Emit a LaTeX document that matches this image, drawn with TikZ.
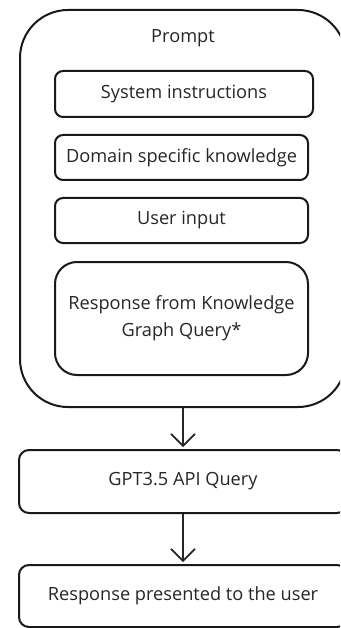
\documentclass[tikz,border=0pt]{standalone}
\usepackage{fontspec}
\setmainfont{Open Sans}
\usetikzlibrary{arrows.meta}

\definecolor{inkgray}{HTML}{262626}

\tikzset{
    box/.style={draw=black!90, line width=2pt, rounded corners=8pt, align=center, inner sep=0pt, text=inkgray},
    flow/.style={draw=black!85, line width=1.6pt, -{Straight Barb[length=12pt,width=24pt]}, shorten >=2pt}
}

\begin{document}
\begin{tikzpicture}[x=1pt, y=-1pt, font=\fontsize{18.2}{27}\selectfont]

        \useasboundingbox (0,0) rectangle (340,628);
        \clip (0,0) rectangle (340,628);

        % the prompt and its parts
        \node[box, rounded corners=48pt, minimum width=326pt, minimum height=397pt]
            (prompt) at (183,208.5) {};
        \node[text=inkgray] (title) at (183,38) {Prompt};

        \node[box, minimum width=258pt, minimum height=46pt]
            (sysinst) at (184,94) {System instructions};
        \node[box, minimum width=253pt, minimum height=45pt]
            (domain) at (181.5,157.5) {Domain specific knowledge};
        \node[box, minimum width=253pt, minimum height=45pt]
            (userin) at (181.5,220.5) {User input};
        \node[box, rounded corners=22pt, minimum width=253pt, minimum height=113pt]
            (kgquery) at (181.5,318.5) {Response from Knowledge\\Graph Query*};

        % the query and the answer
        \node[box, rounded corners=10pt, minimum width=328pt, minimum height=63pt]
            (gpt) at (183,481.5) {GPT3.5 API Query};
        \node[box, rounded corners=10pt, minimum width=328pt, minimum height=62pt]
            (answer) at (183,596) {Response presented to the user};

        \draw[flow]
            (prompt.south) -- (gpt.north);
        \draw[flow]
            (gpt.south) -- (answer.north);

\end{tikzpicture}
\end{document}
